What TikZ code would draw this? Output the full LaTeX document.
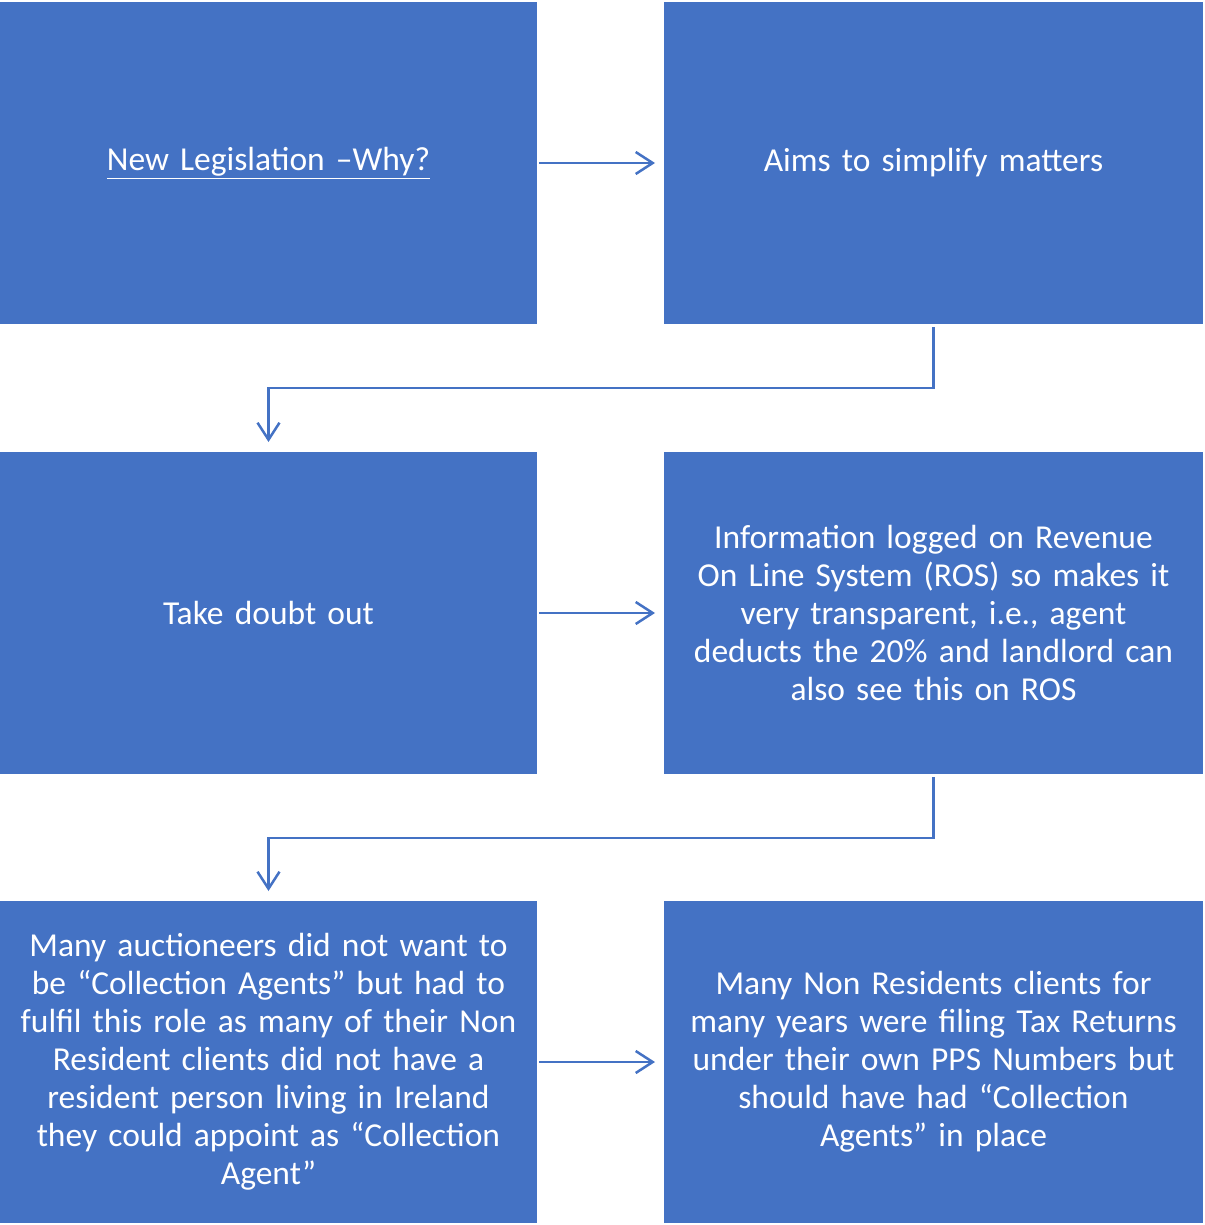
\documentclass[tikz,border=0pt]{standalone}
\usepackage{fontspec}
\setmainfont{Carlito}
\usetikzlibrary{arrows.meta, positioning}
\definecolor{boxblue}{HTML}{4472C4}
\hyphenpenalty=10000
\exhyphenpenalty=10000

\begin{document}
\begin{tikzpicture}[
            x = 1pt, y = -1pt,
            > = {Straight Barb[length=17pt, width=22pt, line width=2.5pt]}, % arrow head style
            node distance = 127pt, % gap between columns
            line width = 2.5pt
        ]

        \tikzset{
            block/.style = {
                draw = none,
                fill = boxblue,
                text = white,
                minimum width = 537pt,
                minimum height = 322pt,
                text width = 525pt,
                align = center,
                inner sep = 0pt,
                outer sep = 0pt,
                font = \fontsize{33.5}{38}\selectfont
            },
            link/.style = {->, draw = boxblue, line width = 2.5pt}
        }

        \useasboundingbox (0,0) rectangle (1204,1225);

        \node[block, anchor = north west] (why) at (0,2) {\underline{New Legislation –Why?}};
        \node[block, minimum width = 539pt, right = of why] (aims) {Aims to simplify matters};
        \node[block, anchor = north west] (doubt) at (0,452) {Take doubt out};
        \node[block, minimum width = 539pt, right = of doubt] (ros) {Information logged on Revenue\\ On Line System (ROS) so makes it\\ very transparent, i.e., agent\\ deducts the 20\% and landlord can\\ also see this on ROS};
        \node[block, anchor = north west] (many) at (0,901) {Many auctioneers did not want to\\ be “Collection Agents” but had to\\ fulfil this role as many of their Non\\ Resident clients did not have a\\ resident person living in Ireland\\ they could appoint as “Collection\\ Agent”};
        \node[block, minimum width = 539pt, right = of many] (nonres) {Many Non Residents clients for\\ many years were filing Tax Returns\\ under their own PPS Numbers but\\ should have had “Collection\\ Agents” in place};

        % horizontal links
        \draw[link] ([xshift=2pt]why.east) -- ([xshift=-9pt]aims.west);
        \draw[link] ([xshift=2pt]doubt.east) -- ([xshift=-9pt]ros.west);
        \draw[link] ([xshift=2pt]many.east) -- ([xshift=-9pt]nonres.west);

        % elbow links
        \draw[link] ([yshift=-3pt]aims.south) -- ++(0,61) -| ([yshift=10pt]doubt.north);
        \draw[link] ([yshift=-3pt]ros.south) -- ++(0,61) -| ([yshift=10pt]many.north);

    \end{tikzpicture}
\end{document}
